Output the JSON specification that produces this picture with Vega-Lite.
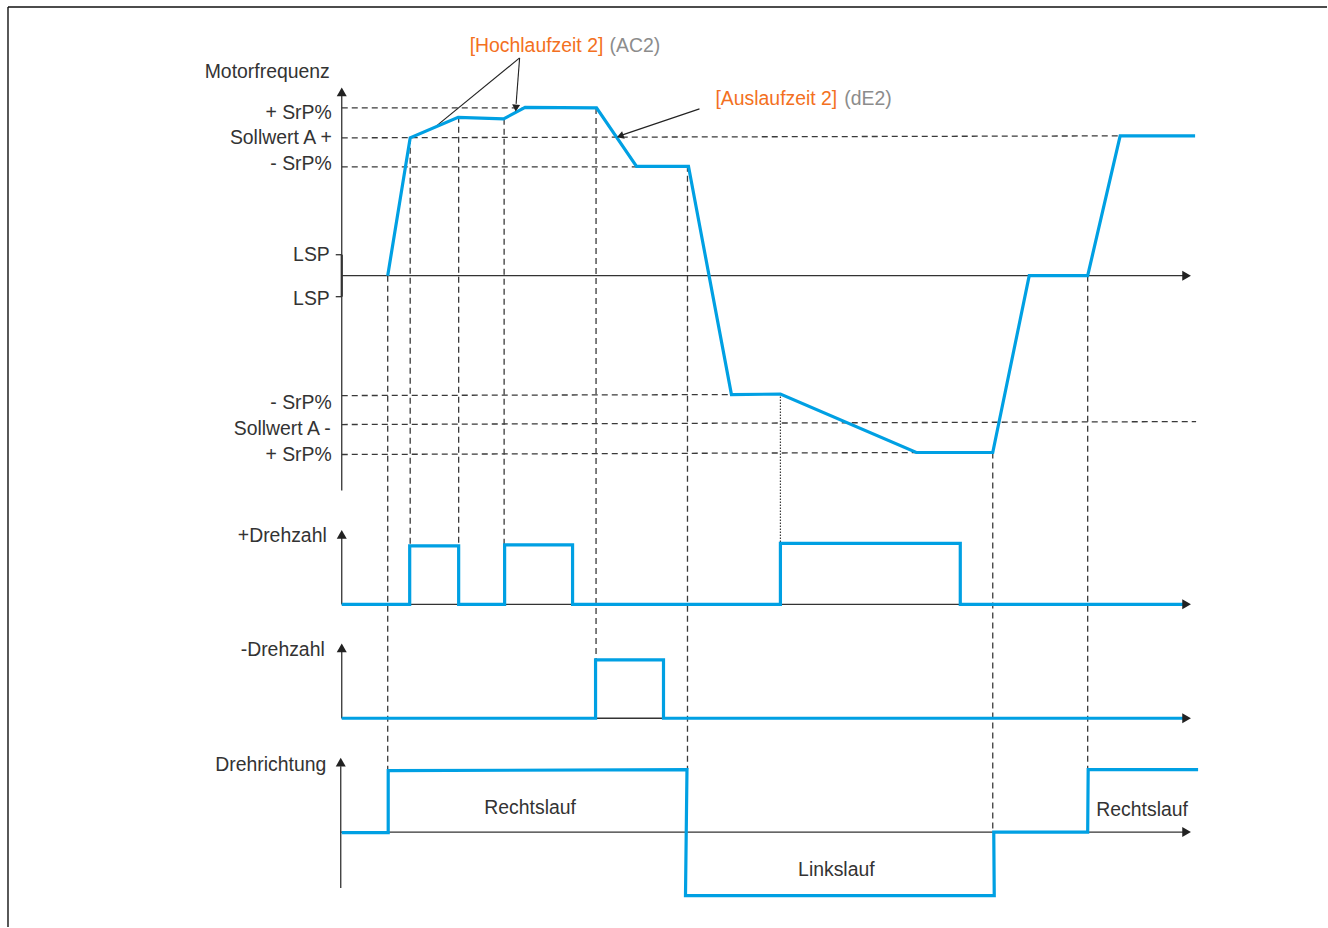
{
  "$schema": "https://vega.github.io/schema/vega-lite/v6.json",
  "width": 1328,
  "height": 928,
  "autosize": {"type": "fit", "contains": "padding"},
  "padding": 0,
  "background": "white",
  "config": {"view": {"stroke": null}},
  "datasets": {
    "frame": [
      {"x": 8, "y": 7, "x2": 1328, "y2": 7},
      {"x": 8, "y": 7, "x2": 8, "y2": 928}
    ],
    "axes": [
      {"x": 342, "y": 491, "x2": 342, "y2": 96},
      {"x": 342, "y": 276, "x2": 1184, "y2": 276},
      {"x": 342, "y": 605, "x2": 342, "y2": 538},
      {"x": 342, "y": 605, "x2": 1184, "y2": 605},
      {"x": 342, "y": 719, "x2": 342, "y2": 652},
      {"x": 342, "y": 719, "x2": 1184, "y2": 719},
      {"x": 341, "y": 889, "x2": 341, "y2": 767},
      {"x": 341, "y": 833, "x2": 1184, "y2": 833},
      {"x": 336, "y": 255, "x2": 342, "y2": 255},
      {"x": 336, "y": 297, "x2": 342, "y2": 297}
    ],
    "lspband": [
      {"x": 342, "y": 255, "x2": 342, "y2": 297}
    ],
    "guides": [
      {"x": 342, "y": 108, "x2": 525, "y2": 108},
      {"x": 342, "y": 138, "x2": 1121, "y2": 136},
      {"x": 342, "y": 167, "x2": 637, "y2": 167},
      {"x": 342, "y": 396, "x2": 732, "y2": 395},
      {"x": 342, "y": 425, "x2": 1197, "y2": 422},
      {"x": 342, "y": 455, "x2": 917, "y2": 453},
      {"x": 388, "y": 276, "x2": 388, "y2": 771},
      {"x": 410.5, "y": 138, "x2": 410.5, "y2": 546},
      {"x": 459, "y": 117, "x2": 459, "y2": 546},
      {"x": 504.5, "y": 119, "x2": 504.5, "y2": 545},
      {"x": 596.5, "y": 108, "x2": 596.5, "y2": 660},
      {"x": 688, "y": 166, "x2": 688, "y2": 770},
      {"x": 993.5, "y": 453, "x2": 993.5, "y2": 833},
      {"x": 1088.5, "y": 276, "x2": 1088.5, "y2": 770}
    ],
    "dotted": [
      {"x": 781, "y": 394, "x2": 781, "y2": 544}
    ],
    "pointers": [
      {"x": 520, "y": 58, "x2": 435, "y2": 127.5},
      {"x": 520, "y": 58, "x2": 516.5, "y2": 104},
      {"x": 700, "y": 109, "x2": 623, "y2": 135}
    ],
    "signals": [
      {"s": "Motorfrequenz", "i": 0, "x": 388, "y": 276},
      {"s": "Motorfrequenz", "i": 1, "x": 410.5, "y": 138},
      {"s": "Motorfrequenz", "i": 2, "x": 458.5, "y": 117.5},
      {"s": "Motorfrequenz", "i": 3, "x": 504, "y": 119},
      {"s": "Motorfrequenz", "i": 4, "x": 525.5, "y": 107.5},
      {"s": "Motorfrequenz", "i": 5, "x": 597, "y": 108},
      {"s": "Motorfrequenz", "i": 6, "x": 637, "y": 166.5},
      {"s": "Motorfrequenz", "i": 7, "x": 689, "y": 166.5},
      {"s": "Motorfrequenz", "i": 8, "x": 732, "y": 395},
      {"s": "Motorfrequenz", "i": 9, "x": 781, "y": 394.5},
      {"s": "Motorfrequenz", "i": 10, "x": 917, "y": 453},
      {"s": "Motorfrequenz", "i": 11, "x": 993.5, "y": 453},
      {"s": "Motorfrequenz", "i": 12, "x": 1030, "y": 276},
      {"s": "Motorfrequenz", "i": 13, "x": 1088.5, "y": 276},
      {"s": "Motorfrequenz", "i": 14, "x": 1121, "y": 136},
      {"s": "Motorfrequenz", "i": 15, "x": 1196, "y": 136},
      {"s": "+Drehzahl", "i": 0, "x": 342, "y": 605},
      {"s": "+Drehzahl", "i": 1, "x": 410, "y": 605},
      {"s": "+Drehzahl", "i": 2, "x": 410, "y": 546.5},
      {"s": "+Drehzahl", "i": 3, "x": 459, "y": 546.5},
      {"s": "+Drehzahl", "i": 4, "x": 459, "y": 605},
      {"s": "+Drehzahl", "i": 5, "x": 505, "y": 605},
      {"s": "+Drehzahl", "i": 6, "x": 505, "y": 545.5},
      {"s": "+Drehzahl", "i": 7, "x": 573, "y": 545.5},
      {"s": "+Drehzahl", "i": 8, "x": 573, "y": 605},
      {"s": "+Drehzahl", "i": 9, "x": 781, "y": 605},
      {"s": "+Drehzahl", "i": 10, "x": 781, "y": 544},
      {"s": "+Drehzahl", "i": 11, "x": 961, "y": 544},
      {"s": "+Drehzahl", "i": 12, "x": 961, "y": 605},
      {"s": "+Drehzahl", "i": 13, "x": 1186, "y": 605},
      {"s": "-Drehzahl", "i": 0, "x": 342, "y": 719},
      {"s": "-Drehzahl", "i": 1, "x": 596, "y": 719},
      {"s": "-Drehzahl", "i": 2, "x": 596, "y": 660.5},
      {"s": "-Drehzahl", "i": 3, "x": 664, "y": 660.5},
      {"s": "-Drehzahl", "i": 4, "x": 664, "y": 719},
      {"s": "-Drehzahl", "i": 5, "x": 1186, "y": 719},
      {"s": "Drehrichtung", "i": 0, "x": 342, "y": 833.5},
      {"s": "Drehrichtung", "i": 1, "x": 388.5, "y": 833.5},
      {"s": "Drehrichtung", "i": 2, "x": 388.5, "y": 771.5},
      {"s": "Drehrichtung", "i": 3, "x": 687.5, "y": 770.5},
      {"s": "Drehrichtung", "i": 4, "x": 686, "y": 896.5},
      {"s": "Drehrichtung", "i": 5, "x": 995, "y": 896.5},
      {"s": "Drehrichtung", "i": 6, "x": 994.5, "y": 833},
      {"s": "Drehrichtung", "i": 7, "x": 1088.5, "y": 833},
      {"s": "Drehrichtung", "i": 8, "x": 1089, "y": 770.5},
      {"s": "Drehrichtung", "i": 9, "x": 1199, "y": 770.5}
    ],
    "upheads": [
      {"x": 342, "y": 92},
      {"x": 342, "y": 535},
      {"x": 342, "y": 648.5},
      {"x": 341, "y": 763}
    ],
    "rightheads": [
      {"x": 1187.5, "y": 276},
      {"x": 1187.5, "y": 605},
      {"x": 1187.5, "y": 719},
      {"x": 1187.5, "y": 833}
    ],
    "head1": [{"x": 516.3, "y": 108.2}],
    "head2": [{"x": 620.6, "y": 136.2}],
    "rlabels": [
      {"x": 330, "y": 71, "text": "Motorfrequenz"},
      {"x": 332, "y": 112, "text": "+ SrP%"},
      {"x": 332, "y": 137, "text": "Sollwert A +"},
      {"x": 332, "y": 163, "text": "- SrP%"},
      {"x": 330, "y": 254, "text": "LSP"},
      {"x": 330, "y": 298, "text": "LSP"},
      {"x": 332, "y": 402, "text": "- SrP%"},
      {"x": 331, "y": 428, "text": "Sollwert A -"},
      {"x": 332, "y": 454, "text": "+ SrP%"},
      {"x": 327, "y": 535, "text": "+Drehzahl"},
      {"x": 325, "y": 649, "text": "-Drehzahl"},
      {"x": 326.5, "y": 764, "text": "Drehrichtung"}
    ],
    "clabels": [
      {"x": 530.5, "y": 807, "text": "Rechtslauf"},
      {"x": 837, "y": 869, "text": "Linkslauf"},
      {"x": 1143, "y": 809, "text": "Rechtslauf"}
    ],
    "params": [
      {"x": 470, "y": 45, "text": "[Hochlaufzeit 2]"},
      {"x": 716, "y": 98, "text": "[Auslaufzeit 2]"}
    ],
    "codes": [
      {"x": 610, "y": 45, "text": "(AC2)"},
      {"x": 845, "y": 98, "text": "(dE2)"}
    ]
  },
  "encoding": {
    "x": {"field": "x", "type": "quantitative", "scale": {"domain": [0, 1328], "nice": false, "zero": false}, "axis": null},
    "y": {"field": "y", "type": "quantitative", "scale": {"domain": [0, 928], "reverse": true, "nice": false, "zero": false}, "axis": null}
  },
  "layer": [
    {"data": {"name": "frame"}, "mark": {"type": "rule", "stroke": "#111111", "strokeWidth": 1.4}, "encoding": {"x2": {"field": "x2"}, "y2": {"field": "y2"}}},
    {"data": {"name": "guides"}, "mark": {"type": "rule", "stroke": "#3a3a3a", "strokeWidth": 1.3, "strokeDash": [6, 4]}, "encoding": {"x2": {"field": "x2"}, "y2": {"field": "y2"}}},
    {"data": {"name": "dotted"}, "mark": {"type": "rule", "stroke": "#3a3a3a", "strokeWidth": 1.2, "strokeDash": [1.5, 1.5]}, "encoding": {"x2": {"field": "x2"}, "y2": {"field": "y2"}}},
    {"data": {"name": "axes"}, "mark": {"type": "rule", "stroke": "#333333", "strokeWidth": 1.3}, "encoding": {"x2": {"field": "x2"}, "y2": {"field": "y2"}}},
    {"data": {"name": "lspband"}, "mark": {"type": "rule", "stroke": "#333333", "strokeWidth": 2.2}, "encoding": {"x2": {"field": "x2"}, "y2": {"field": "y2"}}},
    {"data": {"name": "pointers"}, "mark": {"type": "rule", "stroke": "#222222", "strokeWidth": 1.1}, "encoding": {"x2": {"field": "x2"}, "y2": {"field": "y2"}}},
    {"data": {"name": "signals"}, "mark": {"type": "line", "color": "#00A0E3", "strokeWidth": 3.2, "strokeJoin": "miter", "strokeCap": "butt"}, "encoding": {"detail": {"field": "s", "type": "nominal"}, "order": {"field": "i", "type": "quantitative"}}},
    {"data": {"name": "upheads"}, "mark": {"type": "point", "shape": "triangle-up", "filled": true, "color": "#222222", "opacity": 1, "size": 100, "strokeWidth": 0}},
    {"data": {"name": "rightheads"}, "mark": {"type": "point", "shape": "triangle-right", "filled": true, "color": "#222222", "opacity": 1, "size": 100, "strokeWidth": 0}},
    {"data": {"name": "head1"}, "mark": {"type": "point", "shape": "triangle-up", "angle": 184, "filled": true, "color": "#222222", "opacity": 1, "size": 64, "strokeWidth": 0}},
    {"data": {"name": "head2"}, "mark": {"type": "point", "shape": "triangle-up", "angle": 251, "filled": true, "color": "#222222", "opacity": 1, "size": 64, "strokeWidth": 0}},
    {"data": {"name": "rlabels"}, "mark": {"type": "text", "align": "right", "baseline": "middle", "dy": 1.5, "font": "Liberation Sans", "fontSize": 19.4, "color": "#333333"}, "encoding": {"text": {"field": "text"}}},
    {"data": {"name": "clabels"}, "mark": {"type": "text", "align": "center", "baseline": "middle", "dy": 1.5, "font": "Liberation Sans", "fontSize": 19.4, "color": "#333333"}, "encoding": {"text": {"field": "text"}}},
    {"data": {"name": "params"}, "mark": {"type": "text", "align": "left", "baseline": "middle", "dy": 1.5, "font": "Liberation Sans", "fontSize": 19.4, "color": "#F37021"}, "encoding": {"text": {"field": "text"}}},
    {"data": {"name": "codes"}, "mark": {"type": "text", "align": "left", "baseline": "middle", "dy": 1.5, "font": "Liberation Sans", "fontSize": 19.4, "color": "#8C8C8C"}, "encoding": {"text": {"field": "text"}}}
  ]
}
